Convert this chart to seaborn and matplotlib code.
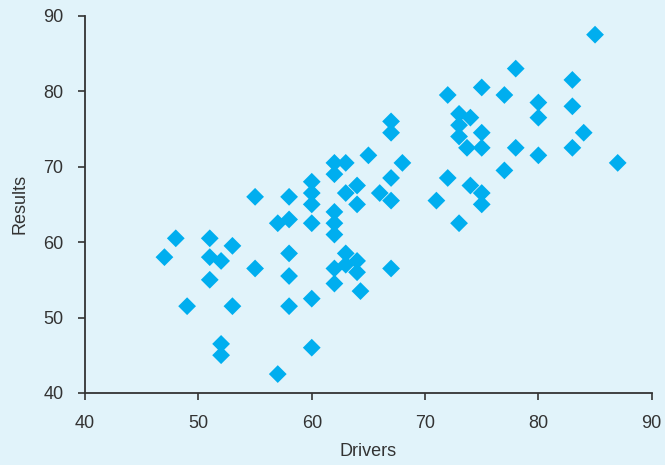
import matplotlib
matplotlib.use("Agg")
import matplotlib.pyplot as plt
import seaborn as sns
import pandas as pd

drivers = [47, 48, 49, 51, 51, 51, 52, 53, 53, 52, 52, 55, 55, 57, 57,
           58, 58, 58, 58, 58, 60, 60, 60, 60, 60, 60,
           62, 62, 62, 62, 62, 62, 62, 63, 63, 63, 63,
           64, 64, 64, 64, 64.3, 65, 66, 67, 67, 67, 67, 67, 68,
           71, 72, 72, 73, 73, 73, 73, 74, 73.7, 74,
           75, 75, 75, 75, 75, 77, 77, 78, 78, 80, 80, 80,
           83, 83, 83, 84, 85, 87]
results = [58, 60.5, 51.5, 60.5, 58, 55, 57.5, 59.5, 51.5, 46.5, 45, 66, 56.5, 42.5, 62.5,
           66, 63, 58.5, 55.5, 51.5, 68, 66.5, 65, 62.5, 52.5, 46,
           70.5, 69, 64, 62.5, 61, 56.5, 54.5, 70.5, 66.5, 58.5, 57,
           67.5, 65, 57.5, 56, 53.5, 71.5, 66.5, 76, 74.5, 68.5, 65.5, 56.5, 70.5,
           65.5, 68.5, 79.5, 77, 75.5, 74, 62.5, 76.5, 72.5, 67.5,
           80.5, 74.5, 72.5, 66.5, 65, 79.5, 69.5, 83, 72.5, 78.5, 76.5, 71.5,
           81.5, 78, 72.5, 74.5, 87.5, 70.5]

df = pd.DataFrame({"Drivers": drivers, "Results": results})

bg = "#E1F3FA"
text_col = "#333333"
sns.set_theme(style="ticks")
plt.rcParams["font.family"] = ["Liberation Sans", "DejaVu Sans"]

fig = plt.figure(figsize=(6.65, 4.65), dpi=100, facecolor=bg)
ax = fig.add_axes([0.128, 0.155, 0.852, 0.811])
ax.set_facecolor(bg)

sns.scatterplot(data=df, x="Drivers", y="Results", marker="D", s=82,
                color="#00AEEF", edgecolor="none", linewidth=0, ax=ax)

ax.set_xlim(40, 90)
ax.set_ylim(40, 90)
ax.set_xticks(range(40, 91, 10))
ax.set_yticks(range(40, 91, 10))
ax.tick_params(axis="both", direction="out", length=5, width=1.2,
               colors="#333333", labelsize=13, labelcolor=text_col)
ax.tick_params(axis="x", pad=11)
ax.tick_params(axis="y", pad=10.5)
for side in ("top", "right"):
    ax.spines[side].set_visible(False)
for side in ("left", "bottom"):
    ax.spines[side].set_color("#333333")
    ax.spines[side].set_linewidth(1.3)

ax.set_xlabel("Drivers", fontsize=13, color=text_col, labelpad=7.5)
ax.set_ylabel("Results", fontsize=13, color=text_col, labelpad=11)

fig.savefig("out.png", dpi=100, facecolor=bg)
